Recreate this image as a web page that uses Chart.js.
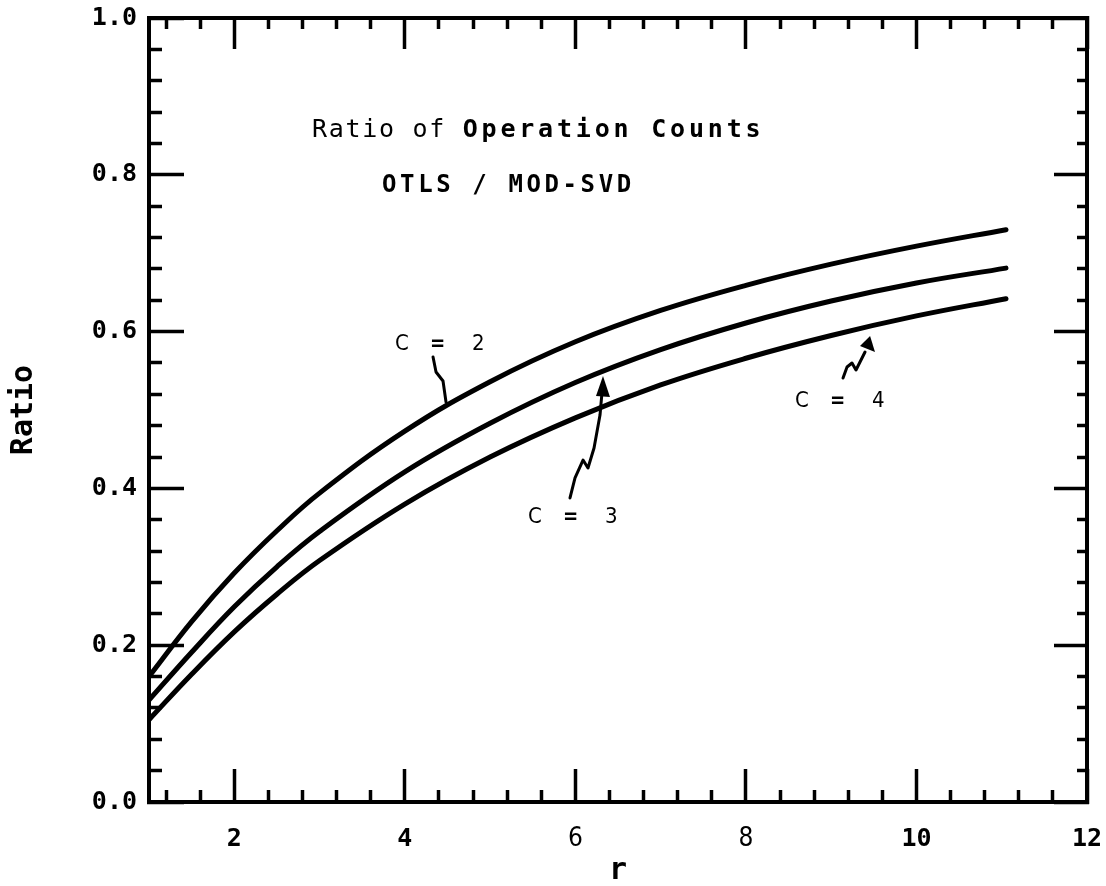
<!DOCTYPE html>
<html>
<head>
<meta charset="utf-8">
<script src="https://cdn.jsdelivr.net/npm/chart.js@4.4.0/dist/chart.umd.min.js"></script>
<style>
html,body{margin:0;padding:0;background:#fff;}
#wrap{width:1106px;height:886px;}
</style>
</head>
<body>
<div id="wrap"><canvas id="c" width="1106" height="886"></canvas></div>
<script>
// ---- data ----
const rValues = [1, 1.5, 2, 2.5, 3, 4, 5, 6, 7, 8, 9, 10, 11.05];
const ratioC2 = [0.160, 0.230, 0.292, 0.346, 0.394, 0.473, 0.536, 0.587, 0.627, 0.659, 0.686, 0.709, 0.730];
const ratioC3 = [0.130, 0.191, 0.249, 0.300, 0.345, 0.421, 0.483, 0.535, 0.577, 0.611, 0.639, 0.662, 0.681];
const ratioC4 = [0.105, 0.163, 0.217, 0.265, 0.308, 0.380, 0.440, 0.490, 0.532, 0.566, 0.595, 0.620, 0.642];
const seriesLabels = ['C = 2', 'C = 3', 'C = 4'];

const xMajorValues = [2, 4, 6, 8, 10, 12];
const xTickLabels = ['2', '4', '6', '8', '10', '12'];
const xThinLabels = ['6', '8'];
const yMajorValues = [0, 0.2, 0.4, 0.6, 0.8, 1.0];
const yTickLabels = ['0.0', '0.2', '0.4', '0.6', '0.8', '1.0'];
const xMinorStep = 0.4;
const yMinorStep = 0.04;

const titleText1a = 'Ratio of ';
const titleText1b = 'Operation Counts';
const titleText2 = 'OTLS / MOD-SVD';
const xTitle = 'r';
const yTitle = 'Ratio';

// ---- tick lists ----
const xTickValues = [];
for (let k = 3; k <= 30; k++) xTickValues.push(Math.round(k * xMinorStep * 10) / 10);
const yTickValues = [];
for (let k = 0; k <= 25; k++) yTickValues.push(Math.round(k * yMinorStep * 100) / 100);

function near(a, b) { return Math.abs(a - b) < 1e-6; }
function isXMajor(v) { return xMajorValues.some(m => near(m, v)); }
function isYMajor(v) { return yMajorValues.some(m => near(m, v)); }

const pts = arr => rValues.map((r, i) => ({x: r, y: arr[i]}));

const monoBold = "'DejaVu Sans Mono', monospace";
const condensed = "'DejaVu Sans Condensed', 'Liberation Sans Narrow', 'DejaVu Sans', sans-serif";

function makeXDash(fn) {
  return ctx => (ctx.tick && isXMajor(ctx.tick.value)) ? [] : fn();
}
function makeYDash(fn) {
  return ctx => (ctx.tick && isYMajor(ctx.tick.value)) ? [] : fn();
}

// ---- annotation placement (data coordinates) ----
const annoTitle = [
  {r: 2.911, v: 0.848},
  {r: 3.733, v: 0.778}
];
const annoCurveLabels = [
  {r: 3.885, v: 0.584, digit: '2'},
  {r: 5.445, v: 0.3635, digit: '3'},
  {r: 8.576, v: 0.5115, digit: '4'}
];
const annoArrows = [
  {path: [[4.331,0.5676],[4.366,0.5485],[4.448,0.537],[4.483,0.5102]], head: null},
  {path: [[5.937,0.3878],[5.996,0.4133],[6.090,0.4362],[6.148,0.426],[6.219,0.4515],[6.289,0.4936],[6.313,0.523]],
   head: [[6.324,0.5434],[6.242,0.5179],[6.406,0.5166]]},
  {path: [[9.139,0.5408],[9.186,0.5548],[9.244,0.5599],[9.291,0.551],[9.397,0.574]],
   head: [[9.456,0.5944],[9.338,0.5816],[9.514,0.574]]}
];

const annotations = {
  id: 'annotations',
  afterDatasetsDraw(chart) {
    const {ctx} = chart;
    const xs = chart.scales.x, ys = chart.scales.y;
    const px = r => xs.getPixelForValue(r);
    const py = v => ys.getPixelForValue(v);
    ctx.save();
    ctx.fillStyle = '#000';
    ctx.strokeStyle = '#000';
    ctx.textBaseline = 'alphabetic';
    ctx.textAlign = 'left';
    // title line 1
    let x = px(annoTitle[0].r), y = py(annoTitle[0].v);
    ctx.font = "normal 25px " + monoBold;
    ctx.letterSpacing = '1.7px';
    ctx.fillText(titleText1a, x, y);
    x += ctx.measureText(titleText1a).width;
    ctx.font = "bold 25px " + monoBold;
    ctx.letterSpacing = '3.8px';
    ctx.fillText(titleText1b, x, y);
    // title line 2
    ctx.font = "bold 24px " + monoBold;
    ctx.letterSpacing = '3.6px';
    ctx.fillText(titleText2, px(annoTitle[1].r), py(annoTitle[1].v));
    ctx.letterSpacing = '0px';
    // curve labels
    ctx.textBaseline = 'middle';
    annoCurveLabels.forEach(l => {
      const lx = px(l.r), ly = py(l.v);
      ctx.font = "normal 22px " + condensed;
      ctx.fillText('C', lx, ly);
      ctx.fillText(l.digit, lx + 77, ly);
      ctx.font = "bold 22px " + monoBold;
      ctx.fillText('=', lx + 36, ly);
    });
    // squiggly arrows
    ctx.lineWidth = 3;
    ctx.lineJoin = 'round';
    ctx.lineCap = 'round';
    annoArrows.forEach(a => {
      ctx.beginPath();
      a.path.forEach((p, i) => {
        const X = px(p[0]), Y = py(p[1]);
        if (i === 0) ctx.moveTo(X, Y); else ctx.lineTo(X, Y);
      });
      ctx.stroke();
      if (a.head) {
        ctx.beginPath();
        a.head.forEach((p, i) => {
          const X = px(p[0]), Y = py(p[1]);
          if (i === 0) ctx.moveTo(X, Y); else ctx.lineTo(X, Y);
        });
        ctx.closePath();
        ctx.fill();
      }
    });
    ctx.restore();
  }
};

const fixSize = (w, h) => scale => {
  if (w !== null) scale.width = w;
  if (h !== null) scale.height = h;
  scale.paddingLeft = scale.paddingRight = scale.paddingTop = scale.paddingBottom = 0;
};
const setXTicks = scale => { scale.ticks = xTickValues.map(v => ({value: v})); };
const setYTicks = scale => { scale.ticks = yTickValues.map(v => ({value: v})); };

const lineStyle = {
  borderColor: '#000',
  borderWidth: 5,
  pointRadius: 0,
  fill: false,
  tension: 0.4,
  borderCapStyle: 'round',
  borderJoinStyle: 'round'
};

new Chart(document.getElementById('c'), {
  type: 'line',
  data: {
    datasets: [
      Object.assign({label: seriesLabels[0], data: pts(ratioC2)}, lineStyle),
      Object.assign({label: seriesLabels[1], data: pts(ratioC3)}, lineStyle),
      Object.assign({label: seriesLabels[2], data: pts(ratioC4)}, lineStyle)
    ]
  },
  options: {
    responsive: false,
    animation: false,
    devicePixelRatio: 1,
    layout: {padding: {top: 18, right: 19, left: 0, bottom: 0}},
    plugins: {legend: {display: false}, tooltip: {enabled: false}},
    scales: {
      x: {
        type: 'linear', position: 'bottom', min: 1, max: 12,
        afterBuildTicks: setXTicks,
        afterFit: fixSize(null, 84),
        border: {display: true, width: 4, color: '#000'},
        grid: {
          drawOnChartArea: false, drawTicks: true, tickLength: -33, tickWidth: 3.5, tickColor: '#000',
          tickBorderDash: makeXDash(() => [14, 1000])
        },
        ticks: {
          autoSkip: false, maxRotation: 0, minRotation: 0, padding: 55, color: '#000',
          callback: v => { const i = xMajorValues.findIndex(m => near(m, v)); return i >= 0 ? xTickLabels[i] : ''; },
          font: ctx => {
            const lbl = ctx.tick ? String(Math.round(ctx.tick.value)) : '';
            if (ctx.tick && xThinLabels.includes(lbl) && isXMajor(ctx.tick.value)) return {family: condensed, size: 26, weight: 'normal'};
            return {family: monoBold, size: 25, weight: 'bold'};
          }
        },
        title: {display: true, text: xTitle, color: '#000', padding: {top: 0, bottom: 0},
          font: {family: monoBold, size: 30, weight: 'bold', lineHeight: 1}}
      },
      x2: {
        type: 'linear', position: 'top', min: 1, max: 12,
        afterBuildTicks: setXTicks,
        afterFit: fixSize(null, 0),
        border: {display: true, width: 4, color: '#000'},
        grid: {
          drawOnChartArea: false, drawTicks: true, tickLength: -31, tickWidth: 3.5, tickColor: '#000',
          tickBorderDash: makeXDash(() => [0, 31 + 2 - 13, 13, 1000])
        },
        ticks: {display: false, autoSkip: false}
      },
      y: {
        type: 'linear', position: 'left', min: 0, max: 1,
        afterBuildTicks: setYTicks,
        afterFit: fixSize(149, null),
        border: {display: true, width: 4, color: '#000'},
        grid: {
          drawOnChartArea: false, drawTicks: true, tickLength: -35, tickWidth: 3.5, tickColor: '#000',
          tickBorderDash: makeYDash(() => [0, 35 + 2 - 15, 15, 1000])
        },
        ticks: {
          autoSkip: false, padding: 47, color: '#000',
          callback: v => { const i = yMajorValues.findIndex(m => near(m, v)); return i >= 0 ? yTickLabels[i] : ''; },
          font: {family: monoBold, size: 25, weight: 'bold'}
        },
        title: {display: true, text: yTitle, color: '#000', padding: {top: 9, bottom: 0},
          font: {family: monoBold, size: 30, weight: 'bold', lineHeight: 1}}
      },
      y2: {
        type: 'linear', position: 'right', min: 0, max: 1,
        afterBuildTicks: setYTicks,
        afterFit: fixSize(0, null),
        border: {display: true, width: 4, color: '#000'},
        grid: {
          drawOnChartArea: false, drawTicks: true, tickLength: -33, tickWidth: 3.5, tickColor: '#000',
          tickBorderDash: makeYDash(() => [12, 1000])
        },
        ticks: {display: false, autoSkip: false}
      }
    }
  },
  plugins: [annotations]
});
</script>
</body>
</html>
